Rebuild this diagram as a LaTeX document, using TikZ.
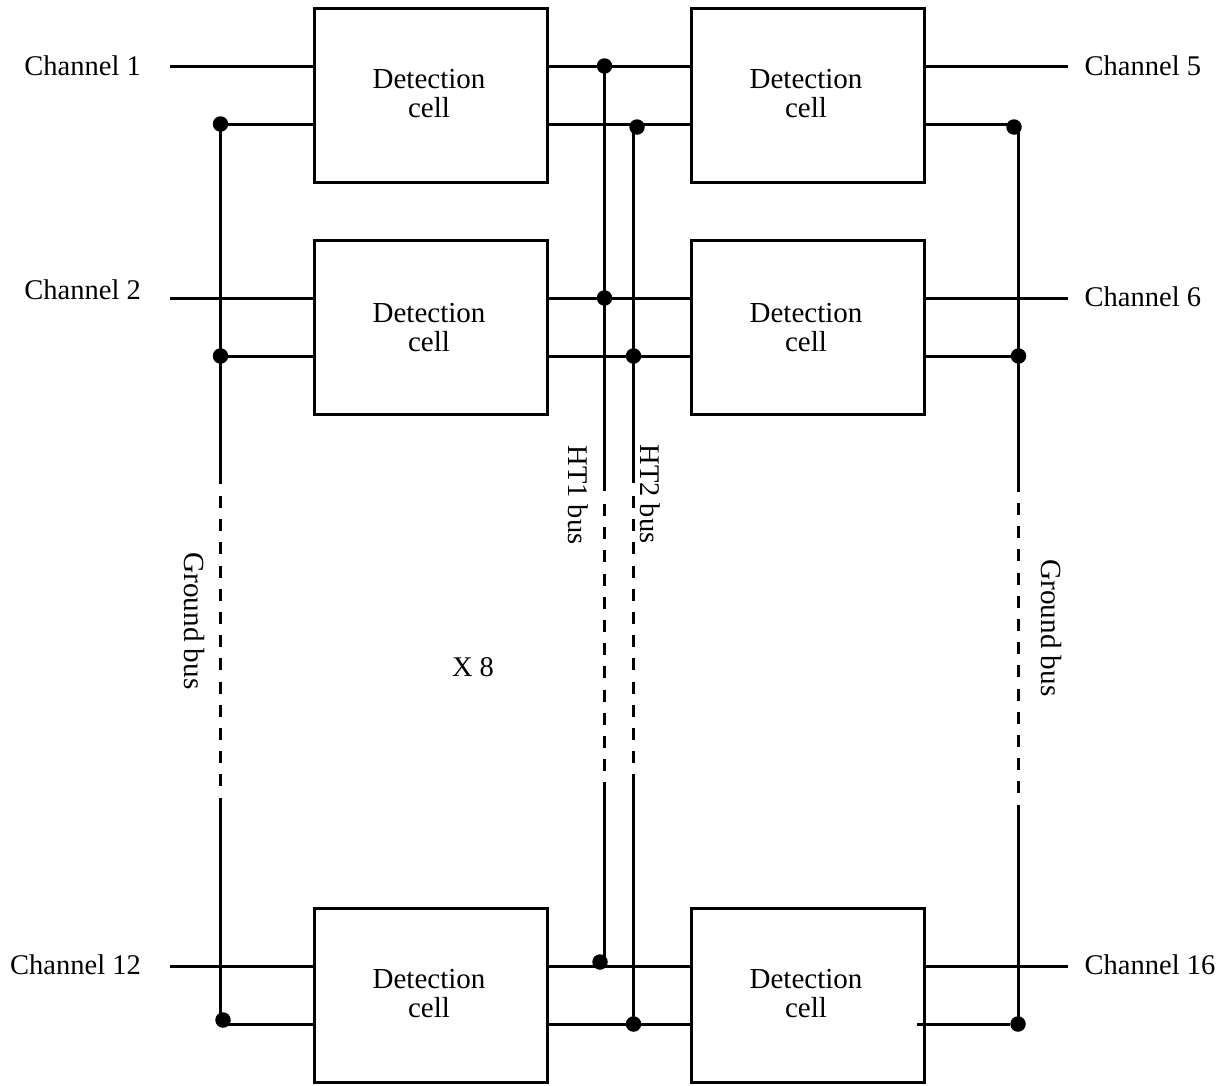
\documentclass[tikz,border=0pt]{standalone}
\usepackage{fontspec}
\setmainfont{Liberation Serif}
\begin{document}
\begin{tikzpicture}[x=1pt,y=-1pt,line cap=butt,
  every node/.style={font=\fontsize{28.5}{29}\selectfont},
  cellbox/.style={draw=black,line width=3pt,outer sep=0pt,minimum width=233pt,minimum height=174pt,inner sep=0pt,anchor=north west},
  celltxt/.style={inner sep=0pt,align=center,font=\fontsize{29}{29}\selectfont},
  wire/.style={draw=black,line width=3pt},
  busdash/.style={wire,dash pattern=on 12pt off 11.2pt},
  jdot/.style={circle,fill=black,draw=none,minimum size=15.5pt,inner sep=0pt,outer sep=0pt},
  txt/.style={inner sep=0pt},
  bigtxt/.style={txt,font=\fontsize{29.2}{30}\selectfont}]
\useasboundingbox (0,0) rectangle (1230,1085);
% cells
\node[cellbox] (a1) at (314,8) {};
\node[cellbox] (b1) at (691.5,8) {};
\node[cellbox] (a2) at (314,240) {};
\node[cellbox] (b2) at (691.5,240) {};
\node[cellbox] (a3) at (314,908) {};
\node[cellbox] (b3) at (691.5,908) {};
\node[celltxt] (ta1) at (429,93.5) {Detection\\cell};
\node[celltxt] (tb1) at (806,93.5) {Detection\\cell};
\node[celltxt] (ta2) at (429,327.5) {Detection\\cell};
\node[celltxt] (tb2) at (806,327.5) {Detection\\cell};
\node[celltxt] (ta3) at (429,993.5) {Detection\\cell};
\node[celltxt] (tb3) at (806,993.5) {Detection\\cell};
% junction dots
\node[jdot] (g1) at (220.5,124) {};
\node[jdot] (g2) at (220.5,356) {};
\node[jdot] (g3) at (223,1020) {};
\node[jdot] (h11) at (604.5,66) {};
\node[jdot] (h12) at (604.5,298) {};
\node[jdot] (h13) at (600,962) {};
\node[jdot] (h21) at (637,127) {};
\node[jdot] (h22) at (633.5,356) {};
\node[jdot] (h23) at (633.5,1024) {};
\node[jdot] (r1) at (1014,127) {};
\node[jdot] (r2) at (1018.5,356) {};
\node[jdot] (r3) at (1018,1024) {};
% free ends
\foreach \n/\x/\y in {l1/170/66,l2/170/298,l3/170/966,
  e1/1068/66,e2/1068/298,e3/1068/966,
  p1/314/124,p2/314/356,p3/314/1024,
  q1/547/66,q2/547/124,q3/547/298,q4/547/356,q5/547/966,q6/547/1024,
  s1/691.5/66,s2/691.5/124,s3/691.5/298,s4/691.5/356,s5/691.5/966,s6/691.5/1024,
  t1/924.5/66,t2/924.5/124,t3/924.5/298,t4/924.5/356,t5/924.5/966,t6/917/1024,
  ga/220/124,gb/220/484,gc/220/798,gd/220/1020,
  ha/604.5/66,hb/604.5/491,hc/604.5/782,hd/604.5/962,
  ia/633.5/127,ib/633.5/483,ic/633.5/775,id/633.5/1024,
  ra/1018.5/127,rb/1018.5/492,rc/1018.5/805,rd/1018.5/1024}
  {\coordinate (\n) at (\x,\y);}
% channel wires
\draw[wire] (l1) -- (p1 |- l1);
\draw[wire] (l2) -- (p2 |- l2);
\draw[wire] (l3) -- (p3 |- l3);
\draw[wire] (t1) -- (e1);
\draw[wire] (t3) -- (e2);
\draw[wire] (t5) -- (e3);
% ground-side wires
\draw[wire] (g1) -- (p1);
\draw[wire] (g2) -- (p2);
\draw[wire] (ga |- p3) -- (p3);
% centre wires
\draw[wire] (q1) -- (s1);
\draw[wire] (q2) -- (s2);
\draw[wire] (q3) -- (s3);
\draw[wire] (q4) -- (s4);
\draw[wire] (q5) -- (s5);
\draw[wire] (q6) -- (s6);
% right wires
\draw[wire] (t2) -- (r1 |- t2);
\draw[wire] (t4) -- (r2);
\draw[wire] (t6) -- (r3);
% buses
\draw[wire] (ga) -- (gb);
\draw[busdash] (gb) ++(0,12) -- (gc);
\draw[wire] (gc) -- (gd) -- (gd |- p3);
\draw[wire] (ha) -- (hb);
\draw[busdash] (hb) ++(0,13) -- (hc);
\draw[wire] (hc) -- (hd);
\draw[wire] (ia) -- (ib);
\draw[busdash] (ib) ++(0,13) -- (ic);
\draw[wire] (ic) -- (id);
\draw[wire] (ra) -- (rb);
\draw[busdash] (rb) ++(0,11) -- (rc);
\draw[wire] (rc) -- (rd);
% labels
\node[txt,anchor=base east] (c1) at (141,75) {Channel 1};
\node[txt,anchor=base east] (c2) at (141,299) {Channel 2};
\node[txt,anchor=base east] (c12) at (141,974) {Channel 12};
\node[txt,anchor=base west] (c5) at (1084.5,75) {Channel 5};
\node[txt,anchor=base west] (c6) at (1084.5,306) {Channel 6};
\node[txt,anchor=base west] (c16) at (1084.5,974) {Channel 16};
\node[bigtxt,rotate=-90] (lg) at (194,621) {Ground bus};
\node[bigtxt,rotate=-90] (rg) at (1051,628) {Ground bus};
\node[txt,rotate=-90] (lh1) at (578,495) {HT1 bus};
\node[txt,rotate=-90] (lh2) at (650.5,494) {HT2 bus};
\node[txt] (x8) at (473,667) {X 8};
\end{tikzpicture}
\end{document}
